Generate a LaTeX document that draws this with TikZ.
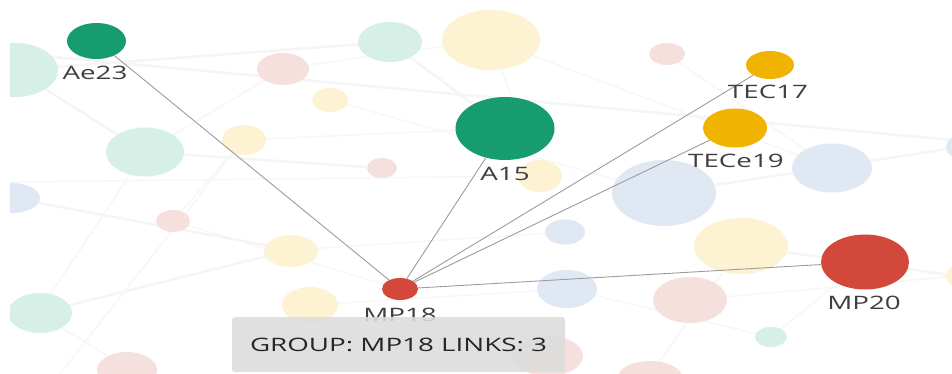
\documentclass[tikz,border=0pt]{standalone}
\usepackage{fontspec}
\setmainfont{Open Sans}
\usepackage{graphicx}
\usetikzlibrary{shapes.geometric}
\definecolor{ngreen}{HTML}{179C6F}
\definecolor{ngold}{HTML}{EFB300}
\definecolor{nred}{HTML}{D2483A}
\definecolor{fteal}{HTML}{D6F0E7}
\definecolor{fyellow}{HTML}{FDF2D2}
\definecolor{fpink}{HTML}{F6E0DE}
\definecolor{fblue}{HTML}{E0E9F3}
\definecolor{lbltext}{HTML}{433D3D}
\definecolor{tiptext}{HTML}{262626}
\definecolor{tipfill}{HTML}{DCDCDC}
\definecolor{edgegray}{HTML}{9C9C9C}
\tikzset{
  x=1pt, y=-1pt,
  dot/.style={ellipse, inner sep=0pt, draw=none},
  lbl/.style={font=\fontsize{18.5}{18}\selectfont, text=lbltext, inner sep=0pt},
  edge/.style={draw=edgegray, line width=0.9pt},
  bgline/.style={draw=black!4, line width=2.5pt},
  bgline2/.style={draw=black!3, line width=1.5pt},
  tip/.style={fill=tipfill, fill opacity=0.88, text opacity=1, rounded corners=3pt,
    minimum width=333pt, minimum height=55pt, inner sep=0pt,
    font=\fontsize{18.5}{18}\selectfont, text=tiptext}
}
\newcommand{\wide}[1]{\scalebox{1.5}[1]{#1}}
\begin{document}
\begin{tikzpicture}
\useasboundingbox (0,0) rectangle (952,374);
\fill[white] (0,0) rectangle (952,374);
\begin{scope}
\clip (10,0) rectangle (952,374);
% faint background links
\draw[bgline] (0,52) -- (952,140);
\draw[bgline] (15,70) -- (390,42);
\draw[bgline] (15,70) -- (145,152);
\draw[bgline] (145,152) -- (381,168);
\draw[bgline2] (145,152) -- (285,68);
\draw[bgline2] (285,68) -- (491,40);
\draw[bgline] (390,42) -- (505,128);
\draw[bgline2] (243,140) -- (505,128);
\draw[bgline2] (330,100) -- (664,193);
\draw[bgline] (38,313) -- (291,250);
\draw[bgline2] (38,313) -- (127,368);
\draw[bgline2] (173,221) -- (400,289);
\draw[bgline] (12,198) -- (291,250);
\draw[bgline2] (291,250) -- (565,232);
\draw[bgline2] (310,305) -- (567,289);
\draw[bgline] (664,193) -- (960,147);
\draw[bgline2] (491,40) -- (832,168);
\draw[bgline2] (667,54) -- (832,168);
\draw[bgline] (741,246) -- (958,276);
\draw[bgline2] (690,300) -- (958,276);
\draw[bgline2] (567,289) -- (771,337);
\draw[bgline2] (10,182) -- (540,176);
\draw[bgline2] (145,152) -- (38,313);
\draw[bgline2] (243,140) -- (173,221);
\draw[bgline2] (741,246) -- (650,375);
\draw[bgline2] (864,262) -- (771,337);
\draw[bgline2] (491,40) -- (540,176);
\draw[bgline2] (60,374) -- (243,140);
% faint background circles
\fill[fteal]   (15,70)  ellipse [x radius=43, y radius=27];
\fill[fteal]   (145,152) ellipse [x radius=39, y radius=24.5];
\fill[fpink]   (283,69) ellipse [x radius=26, y radius=16];
\fill[fyellow] (330,100) ellipse [x radius=18, y radius=12];
\fill[fyellow] (244,140) ellipse [x radius=22, y radius=15];
\fill[fblue]   (12,198) ellipse [x radius=28, y radius=15];
\fill[fteal]   (390,42) ellipse [x radius=32, y radius=20];
\fill[fyellow] (491,40) ellipse [x radius=49, y radius=30];
\fill[fpink]   (382,168) ellipse [x radius=15, y radius=10];
\fill[fyellow] (540,176) ellipse [x radius=22, y radius=16];
\fill[fpink]   (667,54) ellipse [x radius=18, y radius=11];
\fill[fblue]   (832,168) ellipse [x radius=40, y radius=24.5];
\fill[fblue]   (962,147) ellipse [x radius=16, y radius=12];
\fill[fblue]   (664,193) ellipse [x radius=52, y radius=33];
\fill[fblue]   (565,232) ellipse [x radius=20, y radius=12.5];
\fill[fyellow] (741,246) ellipse [x radius=47, y radius=28];
\fill[fpink]   (690,300) ellipse [x radius=37, y radius=23];
\fill[fteal]   (771,337) ellipse [x radius=16, y radius=10];
\fill[fpink]   (650,377) ellipse [x radius=32, y radius=16];
\fill[fyellow] (960,276) ellipse [x radius=14, y radius=12];
\fill[fblue]   (567,289) ellipse [x radius=30, y radius=19];
\fill[fpink]   (548,356) ellipse [x radius=35, y radius=20];
\fill[fpink]   (173,221) ellipse [x radius=17, y radius=11];
\fill[fyellow] (291,251) ellipse [x radius=27, y radius=16];
\fill[fyellow] (310,305) ellipse [x radius=28, y radius=18];
\fill[fteal]   (40,313) ellipse [x radius=32, y radius=20];
\fill[fpink]   (127,370) ellipse [x radius=30, y radius=18];
\end{scope}
% highlighted nodes
\node[dot, fill=ngreen, minimum width=59pt, minimum height=36pt] (ae23) at (96.5,41) {};
\node[dot, fill=ngreen, minimum width=99pt, minimum height=63pt] (a15) at (505,128.5) {};
\node[dot, fill=ngold, minimum width=48pt, minimum height=28pt] (tec17) at (770,65) {};
\node[dot, fill=ngold, minimum width=64pt, minimum height=39pt] (tece19) at (735,128) {};
\node[dot, fill=nred, minimum width=36pt, minimum height=22pt] (mp18) at (400,289) {};
\node[dot, fill=nred, minimum width=88pt, minimum height=55pt] (mp20) at (865,262) {};
% links
\draw[edge] (mp18) -- (ae23);
\draw[edge] (mp18) -- (a15);
\draw[edge] (mp18) -- (tec17);
\draw[edge] (mp18) -- (tece19);
\draw[edge] (mp18) -- (mp20);
% labels
\node[lbl] (lae23) at (95,73) {\wide{Ae23}};
\node[lbl] (la15) at (505,173.5) {\wide{A15}};
\node[lbl] (ltec17) at (768,92) {\wide{TEC17}};
\node[lbl] (ltece19) at (736,160.5) {\wide{TECe19}};
\node[lbl] (lmp18) at (400,315) {\wide{MP18}};
\node[lbl] (lmp20) at (864,302.5) {\wide{MP20}};
% tooltip
\node[tip] (tip) at (398.5,344.5) {\wide{GROUP: MP18 LINKS: 3}};
\end{tikzpicture}
\end{document}
